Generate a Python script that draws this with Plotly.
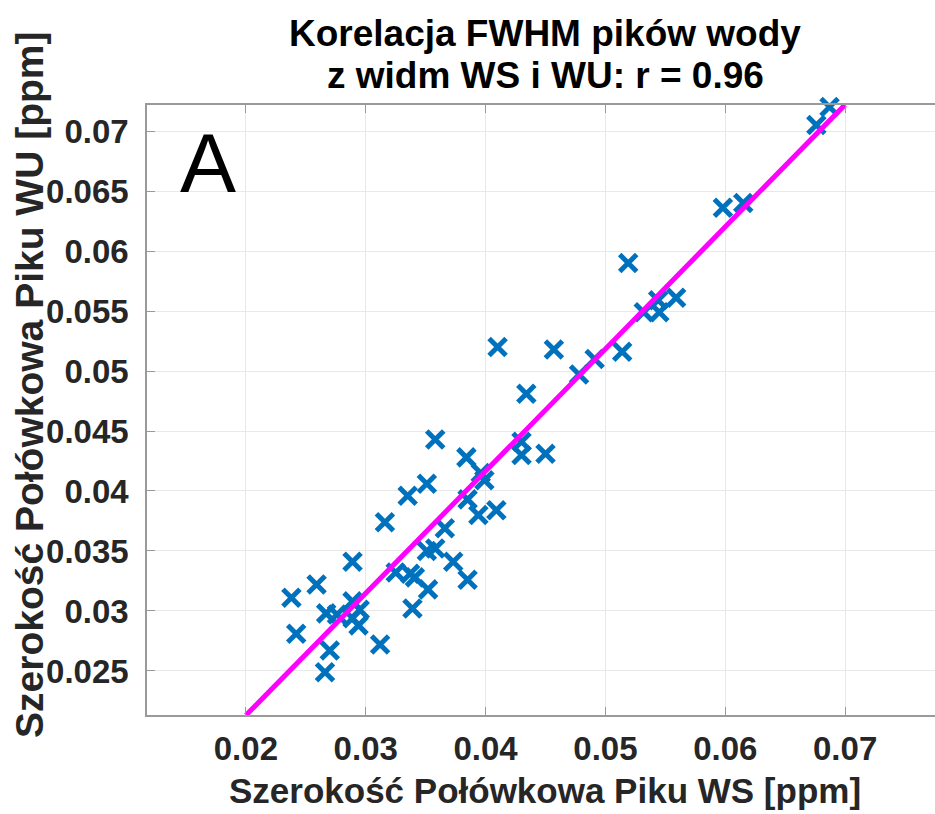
import plotly.graph_objects as go

ws = [0.0238, 0.0242, 0.0259, 0.0266, 0.0270, 0.0267, 0.0276, 0.0289, 0.0289, 0.0295,
      0.0289, 0.0294, 0.0312, 0.0316, 0.0325, 0.0337, 0.0341, 0.0339, 0.0335, 0.0351,
      0.0352, 0.0351, 0.0358, 0.0358, 0.0366, 0.0373, 0.0385, 0.0384, 0.0385, 0.0394,
      0.0396, 0.0399, 0.0409, 0.0410, 0.0430, 0.0430, 0.0434, 0.0450, 0.0457, 0.0478,
      0.0491, 0.0514, 0.0519, 0.0532, 0.0544, 0.0545, 0.0559, 0.0598, 0.0615, 0.0676,
      0.0687]
wu = [0.0311, 0.0281, 0.0322, 0.0249, 0.0267, 0.0298, 0.0297, 0.0341, 0.0308, 0.0301,
      0.0294, 0.0288, 0.0272, 0.0374, 0.0332, 0.0331, 0.0328, 0.0302, 0.0396, 0.0406,
      0.0318, 0.0350, 0.0352, 0.0443, 0.0369, 0.0341, 0.0326, 0.0428, 0.0393, 0.0380,
      0.0415, 0.0409, 0.0384, 0.0520, 0.0441, 0.0430, 0.0481, 0.0431, 0.0518, 0.0497,
      0.0510, 0.0516, 0.0590, 0.0549, 0.0559, 0.0549, 0.0561, 0.0636, 0.0640, 0.0705,
      0.0720]
fit_x = [0.02, 0.07]
fit_y = [0.0213, 0.0722]

x_ticks = [0.02, 0.03, 0.04, 0.05, 0.06, 0.07]
y_ticks = [0.025, 0.03, 0.035, 0.04, 0.045, 0.05, 0.055, 0.06, 0.065, 0.07]

title_lines = ["Korelacja FWHM pików wody", "z widm WS i WU: r = 0.96"]
x_title = "Szerokość Połówkowa Piku WS [ppm]"
y_title = "Szerokość Połówkowa Piku WU [ppm]"

FONT = "Arial, 'Liberation Sans', sans-serif"
L, T, B, W, H = 147, 105, 99, 935, 814
PW, PH = W - L, H - T - B


def px(xp):
    return (xp - L) / PW


def py(yp):
    return (H - B - yp) / PH


fig = go.Figure()
fig.add_trace(go.Scatter(
    x=ws, y=wu, mode="markers", cliponaxis=False,
    marker=dict(symbol="x-thin", size=17, color="#0072BD",
                line=dict(color="#0072BD", width=5)),
    showlegend=False))
fig.add_trace(go.Scatter(
    x=fit_x, y=fit_y, mode="lines", cliponaxis=False,
    line=dict(color="#FF00FF", width=5), showlegend=False))

fig.update_layout(
    width=W, height=H,
    margin=dict(l=L, r=0, t=T, b=B),
    paper_bgcolor="white", plot_bgcolor="white",
    font=dict(family=FONT, size=33, color="#262626", weight="bold"),
)
fig.update_xaxes(
    range=[0.01175, 0.0775], tickvals=x_ticks, ticktext=[f"{v:g}" for v in x_ticks],
    showgrid=True, gridcolor="#e8e8e8", gridwidth=1,
    showline=True, linecolor="#9a9a9a", linewidth=1.5, mirror="ticks",
    ticks="inside", ticklen=8, tickcolor="#9a9a9a", ticklabelstandoff=4,
    zeroline=False, tickfont=dict(size=33, color="#262626", weight="bold"))
fig.update_yaxes(
    range=[0.02133, 0.07217], tickvals=y_ticks, ticktext=[f"{v:g}" for v in y_ticks],
    showgrid=True, gridcolor="#e8e8e8", gridwidth=1,
    showline=True, linecolor="#9a9a9a", linewidth=1.5, mirror=False,
    ticks="inside", ticklen=8, tickcolor="#9a9a9a", ticklabelstandoff=10,
    zeroline=False, tickfont=dict(size=33, color="#262626", weight="bold"))

for text, yc in zip(title_lines, [34, 76]):
    fig.add_annotation(text=text, xref="paper", yref="paper",
                       x=px(545), y=py(yc), xanchor="center", yanchor="middle",
                       showarrow=False,
                       font=dict(family=FONT, size=37, color="black", weight="bold"))
fig.add_annotation(text="A", xref="paper", yref="paper",
                   x=px(178), y=py(212),
                   xanchor="left", yanchor="bottom", showarrow=False,
                   font=dict(family=FONT, size=84, color="black", weight="normal"))
fig.add_annotation(text=x_title, xref="paper", yref="paper",
                   x=px(545), y=py(790), borderpad=0,
                   xanchor="center", yanchor="middle", showarrow=False,
                   font=dict(family=FONT, size=35, color="#262626", weight="bold"))
fig.add_annotation(text=y_title, xref="paper", yref="paper",
                   x=px(29), y=py(385), textangle=-90, borderpad=0,
                   xanchor="center", yanchor="middle", showarrow=False,
                   font=dict(family=FONT, size=39, color="#262626", weight="bold"))

fig.write_html("out.html")
